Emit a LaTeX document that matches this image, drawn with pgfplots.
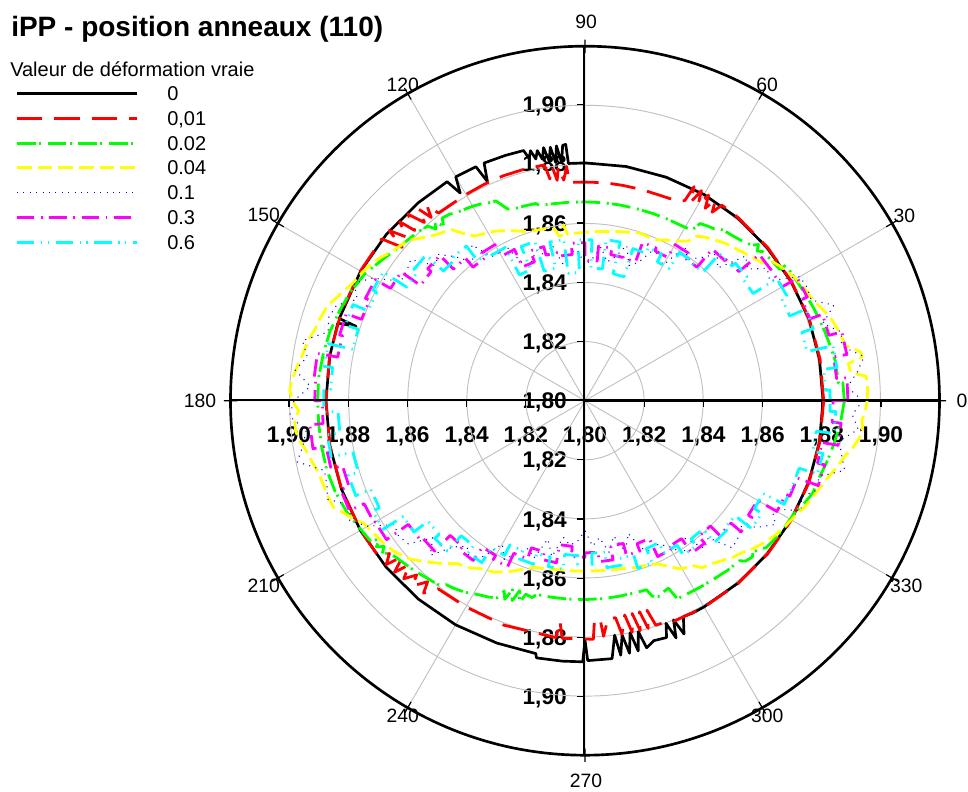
\documentclass[border=0pt]{standalone}
\usepackage{fontspec}
\setmainfont{Liberation Sans}
\usepackage{pgfplots}
\pgfplotsset{compat=1.18}
\usepgfplotslibrary{polar}
\definecolor{gridgray}{RGB}{192,192,192}
\definecolor{cR}{RGB}{255,0,0}
\definecolor{cG}{RGB}{0,255,0}
\definecolor{cY}{RGB}{255,255,0}
\definecolor{cB}{RGB}{0,0,255}
\definecolor{cM}{RGB}{255,0,255}
\definecolor{cC}{RGB}{0,255,255}
\tikzset{
  s0/.style={black, line width=2pt, line join=round, solid},
  s1/.style={cR, line width=2.1pt, line join=round, dash pattern=on 19pt off 9pt},
  s2/.style={cG, line width=2.1pt, line join=round, dash pattern=on 14pt off 2.5pt on 1.5pt off 5pt},
  s3/.style={cY, line width=2.1pt, line join=round, dash pattern=on 11pt off 4.5pt},
  s4/.style={cB, line width=0.8pt, dash pattern=on 0.8pt off 4pt},
  s5/.style={cM, line width=2.1pt, line join=round, dash pattern=on 13pt off 5pt on 1.2pt off 5pt},
  s6/.style={cC, line width=2.1pt, line join=round, dash pattern=on 13pt off 5pt on 1pt off 4pt on 1pt off 5pt},
  rl/.style={font=\bfseries\fontsize{17}{17}\selectfont, inner sep=0pt},
  al/.style={font=\fontsize{14.5}{14.5}\selectfont, inner sep=0.5pt},
  lg/.style={font=\fontsize{15}{15}\selectfont, inner sep=0pt, anchor=base west},
}
\begin{document}
\begin{tikzpicture}[x=0.75pt,y=0.75pt]
\useasboundingbox (0,0) rectangle (968,792);
\coordinate (C) at (585,792-400.7);
% title and legend
\node[anchor=base west, inner sep=0pt, font=\bfseries\fontsize{21}{24}\selectfont] at (11,792-37) {iPP - position anneaux (110)};
\node[lg] at (10,792-77) {Valeur de déformation vraie};
\draw[s0] (17,792-93.3) -- (137,792-93.3);   \node[lg] at (167,792-100.3) {0};
\draw[s1] (17,792-118.3) -- (137,792-118.3); \node[lg] at (167,792-125.3) {0,01};
\draw[s2] (17,792-143.3) -- (137,792-143.3); \node[lg] at (167,792-150.3) {0.02};
\draw[s3] (17,792-167.7) -- (137,792-167.7); \node[lg] at (167,792-174.7) {0.04};
\draw[s4] (17,792-192.7) -- (137,792-192.7); \node[lg] at (167,792-199.7) {0.1};
\draw[s5] (17,792-217.7) -- (137,792-217.7); \node[lg] at (167,792-224.7) {0.3};
\draw[s6] (17,792-242.7) -- (137,792-242.7); \node[lg] at (167,792-249.7) {0.6};
% radial tick labels, vertical axis
\node[rl, anchor=base east] at (567,792-112.7) {1,90};
\node[rl, anchor=base east] at (567,792-171.9) {1,88};
\node[rl, anchor=base east] at (567,792-231.1) {1,86};
\node[rl, anchor=base east] at (567,792-290.3) {1,84};
\node[rl, anchor=base east] at (567,792-349.5) {1,82};
\node[rl, anchor=base east] at (567,792-408.7) {1,80};
\node[rl, anchor=base east] at (567,792-467.9) {1,82};
\node[rl, anchor=base east] at (567,792-527.1) {1,84};
\node[rl, anchor=base east] at (567,792-586.3) {1,86};
\node[rl, anchor=base east] at (567,792-645.5) {1,88};
\node[rl, anchor=base east] at (567,792-704.7) {1,90};
% radial tick labels, horizontal axis
\node[rl, anchor=base] at (289,792-443) {1,90};
\node[rl, anchor=base] at (348.2,792-443) {1,88};
\node[rl, anchor=base] at (407.4,792-443) {1,86};
\node[rl, anchor=base] at (466.6,792-443) {1,84};
\node[rl, anchor=base] at (525.8,792-443) {1,82};
\node[rl, anchor=base] at (585,792-443) {1,80};
\node[rl, anchor=base] at (644.2,792-443) {1,82};
\node[rl, anchor=base] at (703.4,792-443) {1,84};
\node[rl, anchor=base] at (762.6,792-443) {1,86};
\node[rl, anchor=base] at (821.8,792-443) {1,88};
\node[rl, anchor=base] at (881,792-443) {1,90};
% angular labels
\node[al] at (962,792-401) {0};
\node[al] at (586,792-22) {90};
\node[al] at (200,792-401) {180};
\node[al] at (586,792-781) {270};
\node[al, anchor=210] at ([shift={(30:266.5pt)}]C) {30};
\node[al, anchor=240] at ([shift={(60:266.5pt)}]C) {60};
\node[al, anchor=300] at ([shift={(120:266.5pt)}]C) {120};
\node[al, anchor=330] at ([shift={(150:266.5pt)}]C) {150};
\node[al, anchor=30] at ([shift={(210:266.5pt)}]C) {210};
\node[al, anchor=60] at ([shift={(240:266.5pt)}]C) {240};
\node[al, anchor=120] at ([shift={(300:266.5pt)}]C) {300};
\node[al, anchor=150] at ([shift={(330:266.5pt)}]C) {330};

\begin{polaraxis}[
  at={(C)}, anchor=center,
  width=531.75pt, height=531.75pt, scale only axis,
  xmin=0, xmax=360, ymin=0, ymax=0.12,
  clip=false,
  y filter/.expression={y-1.8},
  xtick={0,30,...,330},
  xticklabels={},
  ytick={0.02,0.04,0.06,0.08,0.10},
  yticklabels={},
  ytick style={draw=none},
  xtick style={black, line width=0.9pt},
  xtick align=center,
  major tick length=10pt,
  grid=major,
  grid style={gridgray, line width=0.7pt},
  axis line style={black, line width=2pt},
  no markers,
]
% 0
\addplot[s0] coordinates {(0,1.8806)(10,1.8806)(20,1.8807)(30,1.8806)(40,1.8805)(50,1.8806)(60,1.8806)(70,1.8805)(80,1.8805)(90,1.8805)(94,1.8805)(94.3,1.8870)(95,1.8868)(95.6,1.8810)(96.4,1.8868)(97,1.8812)(97.8,1.8866)(98.5,1.8820)(99.3,1.8868)(100,1.8830)(100.8,1.8862)(101.5,1.8835)(102.3,1.8866)(103,1.8842)(103.8,1.8872)(108,1.8873)(113,1.8874)(114,1.8812)(115,1.8874)(120,1.8875)(121,1.8820)(122.2,1.8876)(130,1.8876)(140,1.8877)(150,1.8877)(161.5,1.8877)(162,1.8815)(162.6,1.8877)(170,1.8877)(180,1.8877)(190,1.8877)(200,1.8877)(210,1.8878)(220,1.8878)(230,1.8877)(240,1.8876)(250,1.8873)(259,1.8872)(259.3,1.8886)(265,1.8885)(269.5,1.8884)(270,1.8810)(270.6,1.8880)(276,1.8878)(277.2,1.8800)(278,1.8870)(279,1.8803)(280,1.8868)(281,1.8800)(282,1.8866)(283,1.8802)(284,1.8862)(286,1.8845)(289,1.8848)(290,1.8802)(291,1.8860)(292,1.8800)(293,1.8858)(294.5,1.8803)(297,1.8806)(300,1.8806)(310,1.8806)(320,1.8806)(330,1.8806)(340,1.8806)(350,1.8806)(360,1.8806)};
% 0,01
\addplot[s1] coordinates {(0,1.8808)(10,1.8808)(20,1.8808)(30,1.8807)(40,1.8807)(50,1.8808)(55,1.8808)(56,1.8770)(57,1.8812)(58,1.8768)(59,1.8812)(60,1.8765)(61,1.8813)(62,1.8760)(63,1.8813)(63.5,1.8757)(65,1.8745)(70,1.8740)(75,1.8740)(80,1.8740)(85,1.8741)(90,1.8740)(94,1.8741)(94.5,1.8795)(95.5,1.8750)(96.5,1.8797)(97.2,1.8752)(98,1.8800)(99,1.8760)(99.6,1.8800)(100,1.8810)(105,1.8810)(110,1.8810)(115,1.8808)(120,1.8806)(128,1.8806)(129,1.8850)(130,1.8810)(131,1.8860)(132,1.8812)(133.5,1.8870)(135,1.8815)(136,1.8872)(137.5,1.8820)(139,1.8878)(140,1.8808)(141.5,1.8880)(142,1.8878)(150,1.8878)(160,1.8878)(170,1.8878)(180,1.8877)(190,1.8877)(200,1.8877)(210,1.8877)(217,1.8876)(218,1.8840)(219.5,1.8872)(220.5,1.8812)(222,1.8868)(223,1.8815)(224.5,1.8860)(226,1.8820)(227,1.8858)(229,1.8812)(230,1.8850)(232,1.8808)(240,1.8806)(250,1.8808)(263,1.8808)(263.5,1.8750)(264.5,1.8808)(272,1.8808)(272.5,1.8740)(274,1.8745)(274.5,1.8800)(276,1.8742)(278,1.8742)(279,1.8800)(280.5,1.8738)(281.5,1.8800)(282.5,1.8738)(283.5,1.8800)(284.5,1.8738)(285.5,1.8800)(286.5,1.8740)(287.5,1.8797)(290,1.8797)(292,1.8805)(300,1.8807)(310,1.8807)(320,1.8807)(330,1.8807)(340,1.8807)(350,1.8807)(360,1.8808)};
% 0.02
\addplot[s2] coordinates {(0,1.8878)(4,1.8875)(4,1.8860)(9,1.8858)(12,1.8852)(16,1.8845)(20,1.8838)(22,1.8835)(25,1.8830)(28,1.8825)(31,1.8822)(34,1.8820)(34,1.8795)(37,1.8790)(40,1.8785)(41,1.8772)(42,1.8790)(43,1.8772)(45,1.8760)(48,1.8750)(50,1.8745)(52,1.8740)(53,1.8728)(55,1.8722)(57,1.8715)(58,1.8680)(60,1.8678)(62,1.8676)(66,1.8675)(70,1.8674)(75,1.8673)(80,1.8673)(85,1.8673)(90,1.8673)(95,1.8674)(100,1.8676)(103,1.8678)(104,1.8688)(107,1.8690)(110,1.8692)(112,1.8700)(114,1.8740)(116,1.8745)(118,1.8754)(120,1.8760)(122,1.8765)(124,1.8770)(126,1.8780)(128,1.8785)(129,1.8760)(130,1.8790)(131,1.8770)(132,1.8795)(135,1.8805)(140,1.8815)(145,1.8835)(150,1.8860)(155,1.8875)(160,1.8885)(165,1.8895)(170,1.8900)(175,1.8905)(180,1.8905)(185,1.8905)(190,1.8905)(195,1.8905)(200,1.8900)(205,1.8890)(210,1.8875)(213,1.8868)(214,1.8840)(215,1.8862)(216,1.8840)(217,1.8860)(218,1.8838)(220,1.8830)(225,1.8815)(230,1.8800)(232,1.8795)(233,1.8780)(235,1.8775)(238,1.8765)(241,1.8750)(244,1.8740)(246,1.8730)(247,1.8700)(248,1.8725)(249,1.8685)(250,1.8720)(251,1.8680)(252,1.8718)(253,1.8685)(255,1.8690)(256,1.8676)(260,1.8675)(265,1.8674)(270,1.8673)(275,1.8673)(280,1.8672)(285,1.8672)(288,1.8673)(289,1.8700)(291,1.8710)(292,1.8700)(294,1.8695)(295,1.8740)(298,1.8740)(302,1.8742)(306,1.8745)(310,1.8750)(314,1.8753)(315,1.8768)(317,1.8775)(318,1.8765)(320,1.8780)(321,1.8790)(324,1.8795)(328,1.8800)(332,1.8805)(335,1.8820)(338,1.8832)(342,1.8835)(346,1.8845)(350,1.8855)(355,1.8868)(360,1.8878)};
% 0.04
\addplot[s3] coordinates {(0,1.8955)(3,1.8958)(5,1.8955)(6,1.8905)(8,1.8900)(9,1.8950)(10,1.8948)(12,1.8900)(14,1.8895)(16,1.8888)(18,1.8880)(20,1.8868)(22,1.8855)(24,1.8843)(26,1.8838)(28,1.8832)(30,1.8825)(33,1.8810)(35,1.8800)(37,1.8788)(38,1.8760)(40,1.8748)(43,1.8735)(46,1.8722)(48,1.8715)(50,1.8705)(52,1.8695)(54,1.8685)(56,1.8672)(57,1.8645)(59,1.8630)(61,1.8620)(63,1.8610)(65,1.8600)(67,1.8595)(70,1.8595)(72,1.8597)(75,1.8590)(78,1.8585)(81,1.8580)(85,1.8575)(88,1.8572)(90,1.8570)(93,1.8568)(96,1.8566)(97,1.8600)(98,1.8565)(99,1.8565)(100,1.8590)(103,1.8598)(106,1.8600)(109,1.8605)(112,1.8620)(115,1.8635)(118,1.8650)(121,1.8660)(124,1.8672)(125,1.8690)(126,1.8700)(128,1.8735)(131,1.8750)(134,1.8770)(137,1.8800)(139,1.8813)(141,1.8820)(143,1.8830)(145,1.8845)(147,1.8857)(150,1.8870)(153,1.8880)(156,1.8900)(158,1.8915)(160,1.8930)(163,1.8940)(165,1.8945)(168,1.8960)(171,1.8970)(174,1.8985)(176,1.8995)(178,1.9000)(180,1.8990)(182,1.8970)(184,1.8985)(186,1.8985)(188,1.8975)(190,1.8960)(193,1.8945)(195,1.8935)(198,1.8930)(201,1.8928)(203,1.8925)(205,1.8900)(207,1.8880)(209,1.8857)(212,1.8845)(215,1.8836)(218,1.8825)(222,1.8800)(224,1.8780)(226,1.8760)(228,1.8740)(230,1.8720)(232,1.8700)(235,1.8690)(238,1.8670)(242,1.8657)(245,1.8640)(248,1.8620)(251,1.8600)(253,1.8590)(256,1.8585)(260,1.8580)(265,1.8578)(270,1.8577)(275,1.8578)(280,1.8580)(284,1.8585)(288,1.8592)(291,1.8595)(294,1.8605)(297,1.8630)(299,1.8650)(301,1.8660)(303,1.8665)(305,1.8690)(308,1.8700)(311,1.8715)(313,1.8728)(316,1.8740)(319,1.8760)(322,1.8776)(325,1.8790)(328,1.8800)(331,1.8810)(334,1.8825)(336,1.8833)(339,1.8845)(342,1.8860)(345,1.8880)(348,1.8900)(350,1.8920)(352,1.8935)(354,1.8945)(356,1.8940)(358,1.8950)(360,1.8955)};
% 0.1
\addplot[s4] coordinates {(0,1.8940)(3,1.8889)(6,1.8927)(9,1.8956)(12,1.8888)(15,1.8898)(18,1.8847)(21,1.8902)(24,1.8838)(27,1.8844)(30,1.8840)(33,1.8746)(36,1.8762)(39,1.8708)(42,1.8732)(45,1.8635)(48,1.8668)(51,1.8623)(54,1.8592)(57,1.8621)(60,1.8530)(63,1.8557)(66,1.8553)(69,1.8500)(72,1.8481)(75,1.8545)(78,1.8499)(81,1.8475)(84,1.8523)(87,1.8482)(90,1.8460)(93,1.8512)(96,1.8503)(99,1.8465)(102,1.8540)(105,1.8508)(108,1.8535)(111,1.8505)(114,1.8500)(117,1.8585)(120,1.8580)(123,1.8581)(126,1.8652)(129,1.8603)(132,1.8656)(135,1.8700)(138,1.8684)(141,1.8759)(144,1.8746)(147,1.8743)(150,1.8830)(153,1.8877)(156,1.8844)(159,1.8901)(162,1.8912)(165,1.8900)(168,1.8978)(171,1.8952)(174,1.8986)(177,1.8931)(180,1.8985)(183,1.9002)(186,1.8949)(189,1.8966)(192,1.8996)(195,1.8913)(198,1.8919)(201,1.8932)(204,1.8868)(207,1.8894)(210,1.8850)(213,1.8770)(216,1.8780)(219,1.8770)(222,1.8694)(225,1.8740)(228,1.8666)(231,1.8634)(234,1.8666)(237,1.8628)(240,1.8560)(243,1.8602)(246,1.8564)(249,1.8536)(252,1.8560)(255,1.8485)(258,1.8540)(261,1.8468)(264,1.8492)(267,1.8476)(270,1.8440)(273,1.8493)(276,1.8466)(279,1.8519)(282,1.8468)(285,1.8530)(288,1.8472)(291,1.8535)(294,1.8560)(297,1.8545)(300,1.8570)(303,1.8618)(306,1.8576)(309,1.8644)(312,1.8624)(315,1.8705)(318,1.8696)(321,1.8677)(324,1.8728)(327,1.8769)(330,1.8730)(333,1.8821)(336,1.8802)(339,1.8843)(342,1.8832)(345,1.8910)(348,1.8888)(351,1.8872)(354,1.8930)(357,1.8906)(360,1.8940)};
% 0.3
\addplot[s5] coordinates {(0,1.8890)(5,1.8890)(5,1.8855)(10,1.8855)(10,1.8900)(15,1.8900)(15,1.8855)(20,1.8855)(20,1.8810)(25,1.8810)(25,1.8830)(30,1.8830)(30,1.8770)(35,1.8770)(40,1.8770)(40,1.8680)(45,1.8680)(45,1.8670)(50,1.8670)(50,1.8590)(55,1.8590)(55,1.8610)(60,1.8610)(60,1.8560)(65,1.8560)(65,1.8570)(70,1.8570)(70,1.8500)(75,1.8500)(75,1.8502)(80,1.8502)(80,1.8525)(85,1.8525)(85,1.8475)(90,1.8475)(90,1.8535)(95,1.8535)(95,1.8497)(100,1.8497)(100,1.8510)(105,1.8510)(105,1.8540)(110,1.8540)(110,1.8500)(115,1.8500)(115,1.8565)(120,1.8565)(120,1.8610)(125,1.8610)(125,1.8590)(130,1.8590)(130,1.8630)(135,1.8630)(135,1.8695)(140,1.8695)(140,1.8680)(145,1.8680)(145,1.8760)(150,1.8760)(150,1.8820)(155,1.8820)(155,1.8805)(160,1.8805)(160,1.8860)(165,1.8860)(165,1.8850)(170,1.8850)(170,1.8920)(175,1.8920)(175,1.8915)(180,1.8915)(180,1.8890)(185,1.8890)(185,1.8935)(190,1.8935)(190,1.8890)(195,1.8890)(195,1.8850)(200,1.8850)(200,1.8880)(205,1.8880)(205,1.8825)(210,1.8825)(210,1.8820)(215,1.8820)(215,1.8730)(220,1.8730)(220,1.8720)(225,1.8720)(225,1.8645)(230,1.8645)(230,1.8660)(235,1.8660)(235,1.8605)(240,1.8605)(240,1.8620)(245,1.8620)(245,1.8570)(250,1.8570)(250,1.8530)(255,1.8530)(255,1.8557)(260,1.8557)(260,1.8495)(265,1.8495)(265,1.8530)(270,1.8530)(270,1.8515)(275,1.8515)(275,1.8547)(280,1.8547)(280,1.8500)(285,1.8500)(285,1.8542)(290,1.8542)(290,1.8515)(295,1.8515)(295,1.8582)(300,1.8582)(300,1.8570)(305,1.8570)(305,1.8630)(310,1.8630)(310,1.8600)(315,1.8600)(315,1.8645)(320,1.8645)(320,1.8690)(325,1.8690)(325,1.8675)(330,1.8675)(330,1.8750)(335,1.8750)(335,1.8765)(340,1.8765)(340,1.8840)(345,1.8840)(345,1.8815)(350,1.8815)(350,1.8870)(355,1.8870)(355,1.8840)(360,1.8840)(360,1.8890)};
% 0.6
\addplot[s6] coordinates {(0,1.8830)(2.5,1.8830)(2.5,1.8815)(7.5,1.8815)(7.5,1.8860)(12.5,1.8860)(12.5,1.8770)(17.5,1.8770)(17.5,1.8810)(22.5,1.8810)(22.5,1.8750)(27.5,1.8750)(27.5,1.8770)(32.5,1.8770)(32.5,1.8675)(37.5,1.8675)(37.5,1.8690)(42.5,1.8690)(42.5,1.8675)(47.5,1.8675)(47.5,1.8590)(52.5,1.8590)(52.5,1.8595)(57.5,1.8595)(57.5,1.8530)(62.5,1.8530)(62.5,1.8560)(67.5,1.8560)(67.5,1.8540)(72.5,1.8540)(72.5,1.8440)(77.5,1.8440)(77.5,1.8550)(82.5,1.8550)(82.5,1.8450)(87.5,1.8450)(87.5,1.8545)(92.5,1.8545)(92.5,1.8435)(97.5,1.8435)(97.5,1.8550)(102.5,1.8550)(102.5,1.8460)(107.5,1.8460)(107.5,1.8565)(112.5,1.8565)(112.5,1.8480)(117.5,1.8480)(117.5,1.8585)(122.5,1.8585)(122.5,1.8597)(127.5,1.8597)(127.5,1.8660)(132.5,1.8660)(132.5,1.8650)(137.5,1.8650)(137.5,1.8730)(142.5,1.8730)(142.5,1.8715)(147.5,1.8715)(147.5,1.8810)(152.5,1.8810)(152.5,1.8795)(157.5,1.8795)(157.5,1.8850)(162.5,1.8850)(162.5,1.8805)(167.5,1.8805)(167.5,1.8890)(172.5,1.8890)(172.5,1.8862)(177.5,1.8862)(177.5,1.8885)(182.5,1.8885)(182.5,1.8837)(187.5,1.8837)(187.5,1.8880)(192.5,1.8880)(192.5,1.8805)(197.5,1.8805)(197.5,1.8840)(202.5,1.8840)(202.5,1.8785)(207.5,1.8785)(207.5,1.8810)(212.5,1.8810)(212.5,1.8730)(217.5,1.8730)(217.5,1.8670)(222.5,1.8670)(222.5,1.8690)(227.5,1.8690)(227.5,1.8620)(232.5,1.8620)(232.5,1.8650)(237.5,1.8650)(237.5,1.8590)(242.5,1.8590)(242.5,1.8550)(247.5,1.8550)(247.5,1.8580)(252.5,1.8580)(252.5,1.8542)(257.5,1.8542)(257.5,1.8575)(262.5,1.8575)(262.5,1.8525)(267.5,1.8525)(267.5,1.8555)(272.5,1.8555)(272.5,1.8517)(277.5,1.8517)(277.5,1.8570)(282.5,1.8570)(282.5,1.8547)(287.5,1.8547)(287.5,1.8595)(292.5,1.8595)(292.5,1.8542)(297.5,1.8542)(297.5,1.8580)(302.5,1.8580)(302.5,1.8620)(307.5,1.8620)(307.5,1.8590)(312.5,1.8590)(312.5,1.8650)(317.5,1.8650)(317.5,1.8640)(322.5,1.8640)(322.5,1.8710)(327.5,1.8710)(327.5,1.8680)(332.5,1.8680)(332.5,1.8760)(337.5,1.8760)(342.5,1.8760)(342.5,1.8825)(347.5,1.8825)(347.5,1.8790)(352.5,1.8790)(352.5,1.8850)(357.5,1.8850)(357.5,1.8830)(360,1.8830)};
\end{polaraxis}

% black axis lines through the centre, with their ticks
\draw[black, line width=1.2pt] (230.5,792-399.8) -- (939.5,792-399.8);
\draw[black, line width=1.2pt] (584.2,792-46.2) -- (584.2,792-755.2);
\foreach \x in {289,348.2,407.4,466.6,525.8,644.2,703.4,762.6,821.8,881}
  \draw[black, line width=0.9pt] (\x,792-399.8) -- (\x,792-407.5);
\foreach \y in {104.7,163.9,223.1,282.3,341.5,459.9,519.1,578.3,637.5,696.7}
  \draw[black, line width=0.9pt] (576.5,792-\y) -- (584.2,792-\y);
\end{tikzpicture}
\end{document}
